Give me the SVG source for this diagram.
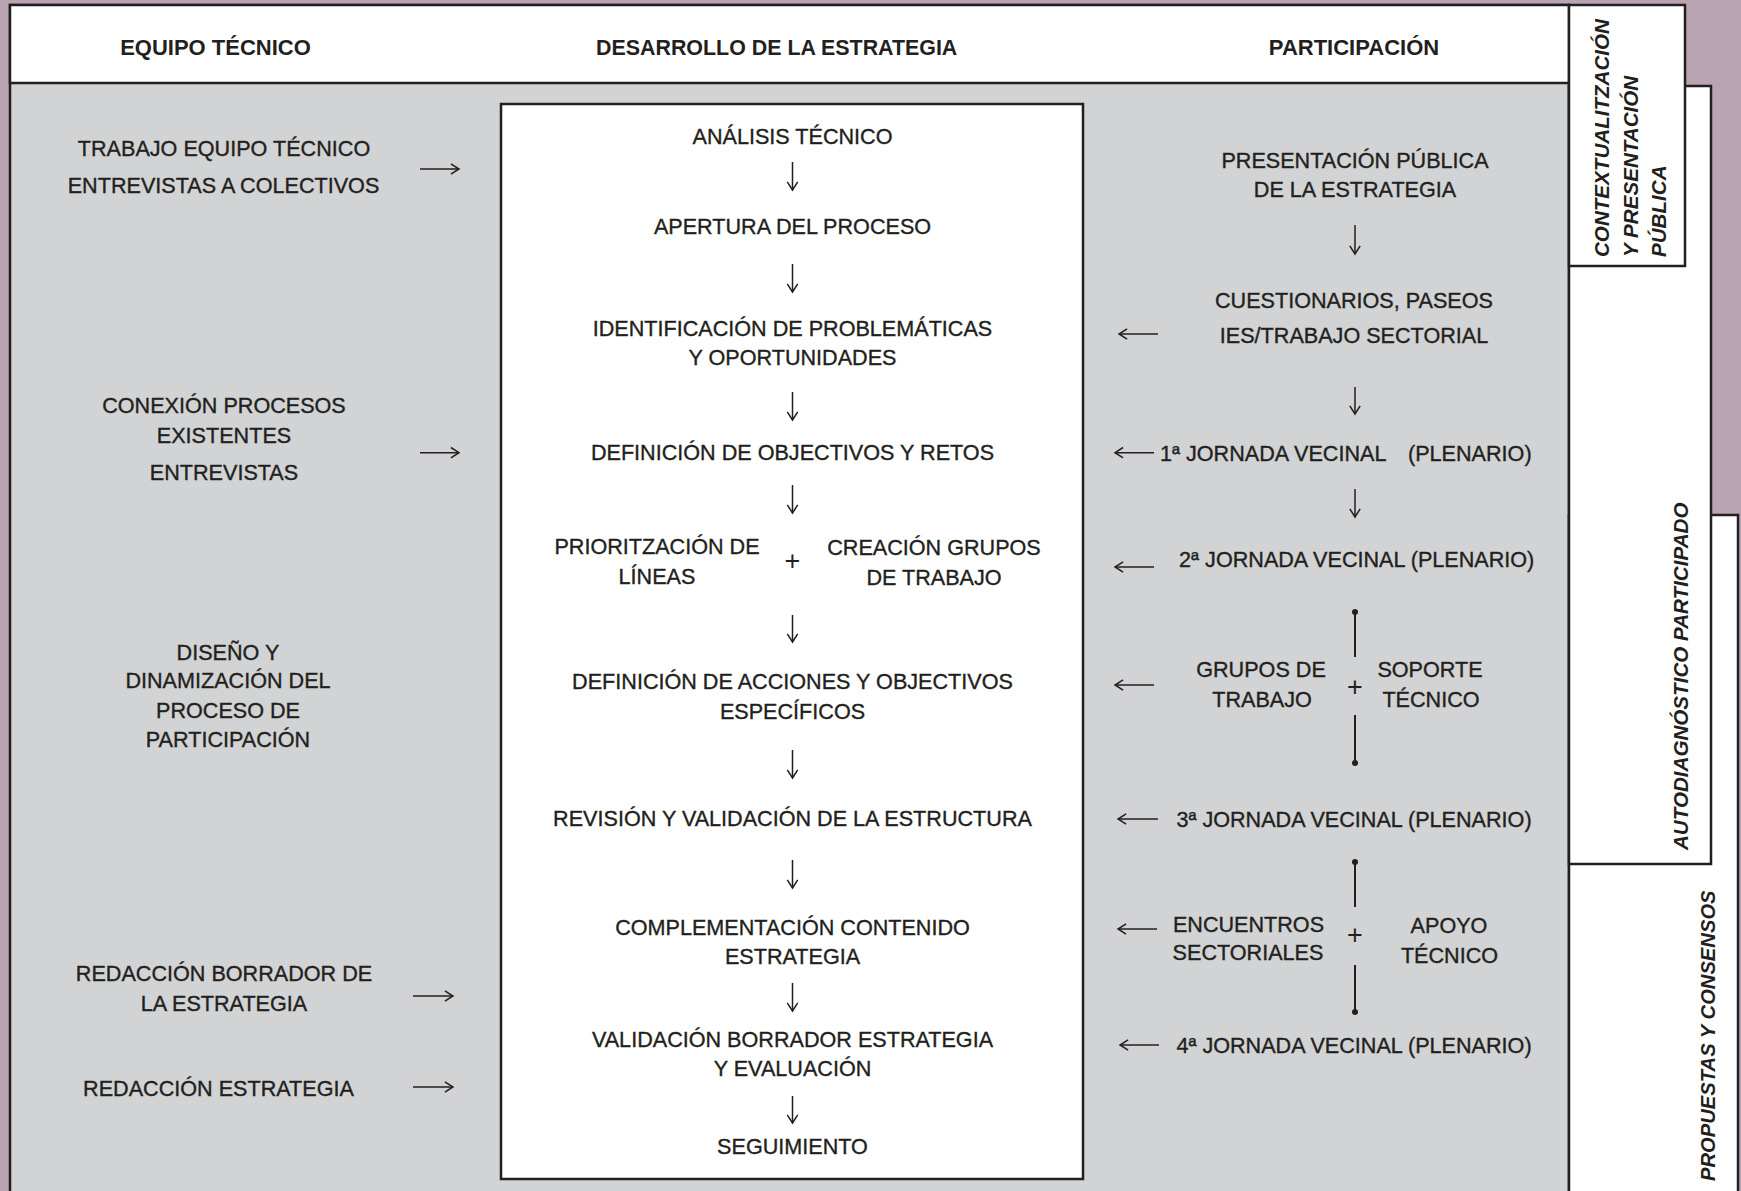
<svg xmlns="http://www.w3.org/2000/svg" width="1741" height="1191" viewBox="0 0 1741 1191">
<defs>
<marker id="ah" viewBox="0 0 9 12" refX="8.6" refY="6" markerWidth="9" markerHeight="12" markerUnits="userSpaceOnUse" orient="auto" overflow="visible">
<path d="M0.5,0.8 L8.6,6 L0.5,11.2" fill="none" stroke="#231f20" stroke-width="1.5"/>
</marker>
</defs>
<style>
.t{font-family:"Liberation Sans",Arial,sans-serif;font-size:21.6px;fill:#231f20;stroke:#231f20;stroke-width:0.35px;text-anchor:middle}
.s{font-family:"Liberation Sans",Arial,sans-serif;font-size:21.6px;fill:#231f20;stroke:#231f20;stroke-width:0.35px;text-anchor:start}
.p{font-family:"Liberation Sans",Arial,sans-serif;font-size:27px;fill:#231f20;text-anchor:middle}
.h{font-family:"Liberation Sans",Arial,sans-serif;font-size:22px;font-weight:bold;fill:#231f20;text-anchor:middle}
.v{font-family:"Liberation Sans",Arial,sans-serif;font-size:20.6px;font-weight:bold;font-style:italic;fill:#231f20;text-anchor:start}
.box{stroke:#231f20;stroke-width:2.5}
.arr{stroke:#231f20;stroke-width:1.5;fill:none;marker-end:url(#ah)}
.bar{stroke:#231f20;stroke-width:2;fill:none}
.dot{fill:#231f20}
</style>

<rect x="0" y="0" width="1741" height="1191" fill="#b9a4b3"/>

<g id="frame">
<rect class="box" x="10" y="5" width="1559" height="1200" fill="#d1d3d4"/>
<rect class="box" x="10" y="5" width="1559" height="78" fill="#ffffff"/>
</g>

<g id="tab-propuestas">
<rect class="box" x="1569" y="515" width="169" height="700" fill="#ffffff"/>
<text class="v" transform="translate(1715,1181) rotate(-90)" style="font-size:20.2px">PROPUESTAS Y CONSENSOS</text>
</g>
<g id="tab-autodiagnostico">
<rect class="box" x="1569" y="86" width="142" height="778" fill="#ffffff"/>
<text class="v" transform="translate(1688,850) rotate(-90)">AUTODIAGNÓSTICO PARTICIPADO</text>
</g>
<g id="tab-contextualizacion">
<rect class="box" x="1569" y="5" width="116" height="261" fill="#ffffff"/>
<text class="v" transform="translate(1609,257) rotate(-90)">CONTEXTUALITZACIÓN</text>
<text class="v" transform="translate(1637.5,257) rotate(-90)">Y PRESENTACIÓN</text>
<text class="v" transform="translate(1666,257) rotate(-90)">PÚBLICA</text>
</g>

<g id="headers">
<text class="h" x="215.5" y="55">EQUIPO TÉCNICO</text>
<text class="h" x="776.7" y="55" style="font-size:21.4px">DESARROLLO DE LA ESTRATEGIA</text>
<text class="h" x="1354" y="55">PARTICIPACIÓN</text>
</g>

<g id="estrategia-box">
<rect class="box" x="501" y="104" width="582" height="1075" fill="#ffffff"/>
</g>

<g id="analisis"><text class="t" x="792.5" y="144">ANÁLISIS TÉCNICO</text></g>
<g id="apertura"><text class="t" x="792.5" y="234">APERTURA DEL PROCESO</text></g>
<g id="identificacion"><text class="t" x="792.5" y="335.5">IDENTIFICACIÓN DE PROBLEMÁTICAS</text><text class="t" x="792.5" y="365">Y OPORTUNIDADES</text></g>
<g id="definicion-objetivos"><text class="t" x="792.5" y="459.5">DEFINICIÓN DE OBJECTIVOS Y RETOS</text></g>
<g id="priorizacion"><text class="t" x="657" y="553.5">PRIORITZACIÓN DE</text><text class="t" x="657" y="583.5">LÍNEAS</text></g>
<g id="plus-center"><text class="p" x="792.5" y="569.5">+</text></g>
<g id="creacion-grupos"><text class="t" x="934" y="555">CREACIÓN GRUPOS</text><text class="t" x="934" y="585">DE TRABAJO</text></g>
<g id="definicion-acciones"><text class="t" x="792.5" y="689">DEFINICIÓN DE ACCIONES Y OBJECTIVOS</text><text class="t" x="792.5" y="718.5">ESPECÍFICOS</text></g>
<g id="revision"><text class="t" x="792.5" y="826">REVISIÓN Y VALIDACIÓN DE LA ESTRUCTURA</text></g>
<g id="complementacion"><text class="t" x="792.5" y="934.5">COMPLEMENTACIÓN CONTENIDO</text><text class="t" x="792.5" y="963.5">ESTRATEGIA</text></g>
<g id="validacion"><text class="t" x="792.5" y="1046.5">VALIDACIÓN BORRADOR ESTRATEGIA</text><text class="t" x="792.5" y="1075.5">Y EVALUACIÓN</text></g>
<g id="seguimiento"><text class="t" x="792.5" y="1154">SEGUIMIENTO</text></g>

<g id="trabajo-equipo"><text class="t" x="224" y="155.7">TRABAJO EQUIPO TÉCNICO</text><text class="t" x="223.5" y="192.7">ENTREVISTAS A COLECTIVOS</text></g>
<g id="conexion"><text class="t" x="224" y="413.3">CONEXIÓN PROCESOS</text><text class="t" x="224" y="442.7">EXISTENTES</text><text class="t" x="224" y="480">ENTREVISTAS</text></g>
<g id="diseno"><text class="t" x="228" y="660">DISEÑO Y</text><text class="t" x="228" y="688.3">DINAMIZACIÓN DEL</text><text class="t" x="228" y="717.7">PROCESO DE</text><text class="t" x="228" y="747.3">PARTICIPACIÓN</text></g>
<g id="redaccion-borrador"><text class="t" x="224" y="981">REDACCIÓN BORRADOR DE</text><text class="t" x="224" y="1011">LA ESTRATEGIA</text></g>
<g id="redaccion"><text class="t" x="218.5" y="1096">REDACCIÓN ESTRATEGIA</text></g>

<g id="presentacion"><text class="t" x="1355" y="168.3">PRESENTACIÓN PÚBLICA</text><text class="t" x="1355" y="197.3">DE LA ESTRATEGIA</text></g>
<g id="cuestionarios"><text class="t" x="1354" y="308.3">CUESTIONARIOS, PASEOS</text><text class="t" x="1354" y="343.3">IES/TRABAJO SECTORIAL</text></g>
<g id="jornada1"><text class="s" x="1160" y="460.7">1ª JORNADA VECINAL<tspan x="1408">(PLENARIO)</tspan></text></g>
<g id="jornada2"><text class="t" x="1356.7" y="566.7">2ª JORNADA VECINAL (PLENARIO)</text></g>
<g id="grupos-trabajo"><text class="t" x="1261" y="677.3">GRUPOS DE</text><text class="t" x="1262" y="706.7">TRABAJO</text></g>
<g id="plus-grupos"><text class="p" x="1355" y="695.5">+</text></g>
<g id="soporte"><text class="t" x="1430" y="677">SOPORTE</text><text class="t" x="1431" y="706.7">TÉCNICO</text></g>
<g id="jornada3"><text class="t" x="1354" y="826.7">3ª JORNADA VECINAL (PLENARIO)</text></g>
<g id="encuentros"><text class="t" x="1248.5" y="931.7">ENCUENTROS</text><text class="t" x="1248" y="960">SECTORIALES</text></g>
<g id="plus-encuentros"><text class="p" x="1355" y="943.5">+</text></g>
<g id="apoyo"><text class="t" x="1449" y="932.7">APOYO</text><text class="t" x="1449.5" y="962.7">TÉCNICO</text></g>
<g id="jornada4"><text class="t" x="1354" y="1053.3">4ª JORNADA VECINAL (PLENARIO)</text></g>

<g id="connectors">
<path class="arr" d="M792.5,162 V190"/>
<path class="arr" d="M792.5,264 V292"/>
<path class="arr" d="M792.5,392 V420"/>
<path class="arr" d="M792.5,485 V513"/>
<path class="arr" d="M792.5,615 V642"/>
<path class="arr" d="M792.5,750 V778"/>
<path class="arr" d="M792.5,860 V888"/>
<path class="arr" d="M792.5,983 V1011"/>
<path class="arr" d="M792.5,1096 V1123"/>

<path class="arr" d="M420,169 H459"/>
<path class="arr" d="M420,452.7 H459"/>
<path class="arr" d="M413,996 H453"/>
<path class="arr" d="M413,1087 H453"/>

<path class="arr" d="M1355,225 V254"/>
<path class="arr" d="M1355,387 V414"/>
<path class="arr" d="M1355,489 V517"/>
<path class="arr" d="M1158,334 H1119"/>
<path class="arr" d="M1154,452.7 H1115"/>
<path class="arr" d="M1154,567 H1115"/>
<path class="arr" d="M1154,685 H1115"/>
<path class="arr" d="M1158,819 H1118"/>
<path class="arr" d="M1157,929 H1118"/>
<path class="arr" d="M1159,1045 H1120"/>

<path class="bar" d="M1355,612 V657 M1355,715 V763"/>
<circle class="dot" cx="1355" cy="612" r="3"/>
<circle class="dot" cx="1355" cy="763" r="3"/>
<path class="bar" d="M1355,862 V907 M1355,965 V1012"/>
<circle class="dot" cx="1355" cy="862" r="3"/>
<circle class="dot" cx="1355" cy="1012" r="3"/>
</g>
</svg>
